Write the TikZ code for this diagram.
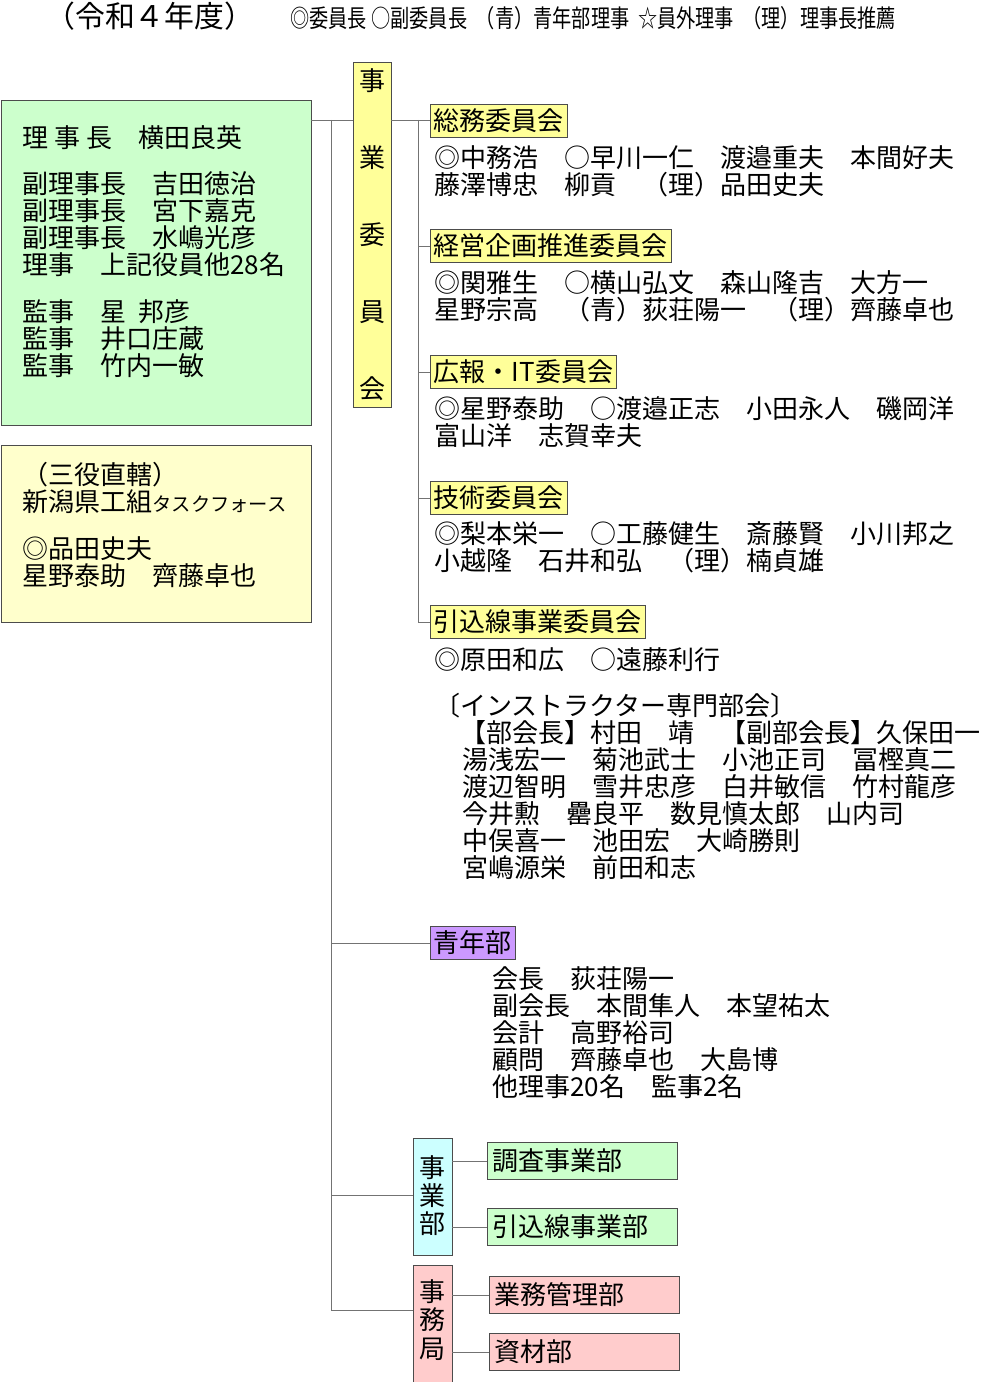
\documentclass[tikz,border=0pt]{standalone}
\usepackage{fontspec}
\setmainfont{Noto Sans CJK JP}
\definecolor{kgreen}{HTML}{CCFFCC}
\definecolor{kyellow}{HTML}{FFFFCC}
\definecolor{kcomm}{HTML}{FFFF99}
\definecolor{kpurple}{HTML}{CC99FF}
\definecolor{kcyan}{HTML}{CCFFFF}
\definecolor{kpink}{HTML}{FFCCCC}
\tikzset{
  box/.style={draw=black!70, inner sep=0pt},
  comm/.style={draw=black!70, fill=kcomm, anchor=west, inner sep=2pt, minimum height=19pt},
  dept/.style={draw=black!70, anchor=west, inner sep=3pt, text width=102pt, minimum height=21pt},
  txt/.style={anchor=north west, align=left, inner sep=0pt},
  wire/.style={draw=black!55},
}
\begin{document}
\begin{tikzpicture}[x=0.02cm,y=-0.02cm,font=\fontsize{14.8}{15.4}\selectfont]
\useasboundingbox (0,0) rectangle (1001,1382);
% header
\node[txt,font=\fontsize{17}{18}\selectfont] (head) at (45,2) {（令和４年度）};
\node[txt,font=\fontsize{14}{15}\selectfont] (legend) at (290,6) {\scalebox{0.78}[1]{◎委員長\ ○副委員長\ \ （青）青年部理事\ \ ☆員外理事\ \ （理）理事長推薦}};

% left boxes
\draw[box,fill=kgreen] (1,100) rectangle (311,425);
\node[txt] (board) at (22,125) {理\ 事\ 長　横田良英\\[11pt]副理事長　吉田徳治\\副理事長　宮下嘉克\\副理事長　水嶋光彦\\理事　上記役員他28名\\[11pt]監事　星\ \ 邦彦\\監事　井口庄蔵\\監事　竹内一敏};
\draw[box,fill=kyellow] (1,445) rectangle (311,622);
\node[txt] (sanyaku) at (22,462) {（三役直轄）\\新潟県工組{\fontsize{11}{12}\selectfont タスクフォース}\\[11pt]◎品田史夫\\星野泰助　齊藤卓也};

% trunk
\coordinate (t0) at (331,120);
\coordinate (t1) at (331,943);
\coordinate (t2) at (331,1195);
\coordinate (t3) at (331,1310);
\draw[wire] (311,120) -- (353,120);
\draw[wire] (t0) -- (t3);

% jigyo iinkai
\draw[box,fill=kcomm] (353,62) rectangle (391,407);
\foreach \c [count=\i] in {事,業,委,員,会}
  \node (ji\i) at (372,81+\i*77-77) {\c};

\coordinate (b0) at (418,120);
\coordinate (b4) at (418,622);
\draw[wire] (391,120) -- (430,120);
\draw[wire] (b0) -- (b4);

\node[comm] (c1) at (430,121) {総務委員会};
\node[comm] (c2) at (430,246) {経営企画推進委員会};
\node[comm] (c3) at (430,372) {広報・IT委員会};
\node[comm] (c4) at (430,498) {技術委員会};
\node[comm] (c5) at (430,622) {引込線事業委員会};
\foreach \y/\n in {246/c2,372/c3,498/c4,622/c5}
  \draw[wire] (418,\y) -- (\n.west);

\node[txt] (m1) at (434,145) {◎中務浩　○早川一仁　渡邉重夫　本間好夫\\藤澤博忠　柳貢　（理）品田史夫};
\node[txt] (m2) at (434,270) {◎関雅生　○横山弘文　森山隆吉　大方一\\星野宗高　（青）荻荘陽一　（理）齊藤卓也};
\node[txt] (m3) at (434,396) {◎星野泰助　○渡邉正志　小田永人　磯岡洋\\富山洋　志賀幸夫};
\node[txt] (m4) at (434,521) {◎梨本栄一　○工藤健生　斎藤賢　小川邦之\\小越隆　石井和弘　（理）楠貞雄};
\node[txt] (m5) at (434,647) {◎原田和広　○遠藤利行\\[11pt]〔インストラクター専門部会〕\\\hspace*{15pt}【部会長】村田　靖　【副部会長】久保田一\\\hspace*{16pt}湯浅宏一　菊池武士　小池正司　冨樫真二\\\hspace*{16pt}渡辺智明　雪井忠彦　白井敏信　竹村龍彦\\\hspace*{16pt}今井勲　罍良平　数見慎太郎　山内司\\\hspace*{16pt}中俣喜一　池田宏　大崎勝則\\\hspace*{16pt}宮嶋源栄　前田和志};

% seinenbu
\node[comm,fill=kpurple] (sei) at (430,943) {青年部};
\draw[wire] (t1) -- (sei.west);
\node[txt] (seim) at (492,966) {会長　荻荘陽一\\副会長　本間隼人　本望祐太\\会計　高野裕司\\顧問　齊藤卓也　大島博\\他理事20名　監事2名};

% jigyobu
\draw[box,fill=kcyan] (413,1138) rectangle (452,1255);
\node[align=center,font=\fontsize{14.8}{16}\selectfont] (jb) at (432.5,1196) {事\\業\\部};
\draw[wire] (t2) -- (413,1195);
\node[dept,fill=kgreen] (d1) at (487,1161) {調査事業部};
\node[dept,fill=kgreen] (d2) at (487,1227) {引込線事業部};
\draw[wire] (452,1161) -- (d1.west);
\draw[wire] (452,1227) -- (d2.west);

% jimukyoku
\draw[box,fill=kpink] (413,1265) rectangle (452,1382);
\node[align=center,font=\fontsize{14.8}{16}\selectfont] (jk) at (432.5,1320) {事\\務\\局};
\draw[wire] (t3) -- (413,1310);
\node[dept,fill=kpink] (d3) at (489,1295) {業務管理部};
\node[dept,fill=kpink] (d4) at (489,1352) {資材部};
\draw[wire] (452,1295) -- (d3.west);
\draw[wire] (452,1352) -- (d4.west);
\end{tikzpicture}
\end{document}
